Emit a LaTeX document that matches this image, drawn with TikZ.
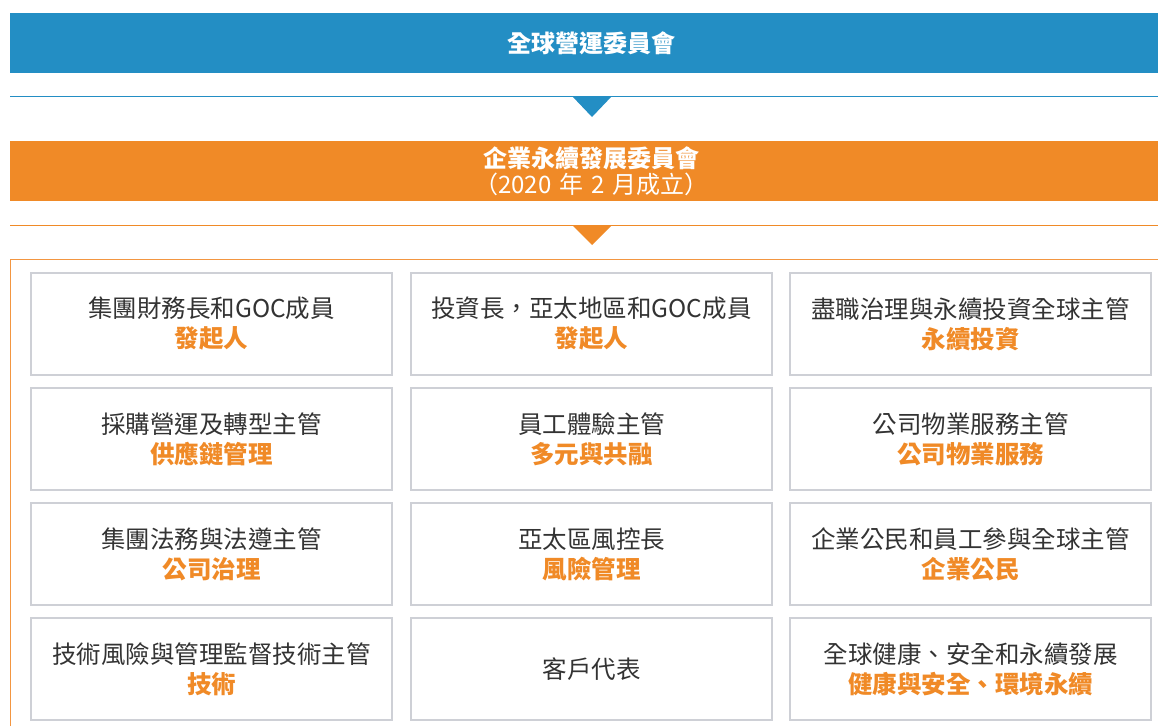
\documentclass[tikz,border=0pt]{standalone}
\usepackage{xcolor}
\usepackage{fontspec}
\setmainfont{Noto Sans CJK TC}
\usepackage{tikz}

\definecolor{gocblue}{RGB}{35,142,196}
\definecolor{csrorange}{RGB}{240,138,39}
\definecolor{frameorange}{RGB}{243,150,65}
\definecolor{boxgray}{RGB}{206,208,214}
\definecolor{textgray}{RGB}{51,51,51}

\newcommand{\duty}[1]{{\bfseries\color{csrorange}#1}}

\tikzset{
    bar/.style={minimum width=1163pt, minimum height=60pt, inner sep=0pt,
                text=white, align=center},
    rolebox/.style={draw=boxgray, line width=1.5pt, fill=white,
                    minimum width=361pt, minimum height=102pt, inner sep=0pt,
                    align=center, text=textgray,
                    font=\fontsize{24.5}{30}\selectfont},
}

\begin{document}
\begin{tikzpicture}[x=1pt, y=-1pt]
                \clip (0, 0) rectangle (1158, 726);
                \fill[white] (0, 0) rectangle (1158, 726);
                % committees
                \node[bar, fill=gocblue, font=\fontsize{24}{27}\bfseries] (goc) at (591.5, 43) {全球營運委員會};
                \node[bar, fill=csrorange, font=\fontsize{24}{27}\selectfont] (csr) at (591.5, 171)
                    {\textbf{企業永續發展委員會}\\[-1pt]（2020\hspace{8pt}年\hspace{8pt}2\hspace{8pt}月成立）};
                \draw[gocblue, line width=1.5pt] (10, 96.5) -- (1173, 96.5);
                \fill[gocblue] (572, 96) -- (612, 96) -- (592, 117) -- cycle;
                \draw[csrorange, line width=1.5pt] (10, 225.5) -- (1173, 225.5);
                \fill[csrorange] (572, 225) -- (612, 225) -- (592, 245) -- cycle;
                \draw[frameorange, line width=1.5pt] (10.5, 726) -- (10.5, 259.5) -- (1173, 259.5);
                % members
                \node[rolebox] (cfo) at (211.5, 324) {集團財務長和GOC成員\\\duty{發起人}};
                \node[rolebox] (cio) at (591.5, 324) {投資長，亞太地區和GOC成員\\\duty{發起人}};
                \node[rolebox] (stewardship) at (970.5, 324) {盡職治理與永續投資全球主管\\\duty{永續投資}};
                \node[rolebox] (procurement) at (211.5, 439) {採購營運及轉型主管\\\duty{供應鏈管理}};
                \node[rolebox] (employee) at (591.5, 439) {員工體驗主管\\\duty{多元與共融}};
                \node[rolebox] (property) at (970.5, 439) {公司物業服務主管\\\duty{公司物業服務}};
                \node[rolebox] (legal) at (211.5, 554) {集團法務與法遵主管\\\duty{公司治理}};
                \node[rolebox] (risk) at (591.5, 554) {亞太區風控長\\\duty{風險管理}};
                \node[rolebox] (citizenship) at (970.5, 554) {企業公民和員工參與全球主管\\\duty{企業公民}};
                \node[rolebox] (tech) at (211.5, 669) {技術風險與管理監督技術主管\\\duty{技術}};
                \node[rolebox] (client) at (591.5, 669) {客戶代表};
                \node[rolebox] (hse) at (970.5, 669) {全球健康、安全和永續發展\\\duty{健康與安全、環境永續}};
            \end{tikzpicture}
\end{document}
